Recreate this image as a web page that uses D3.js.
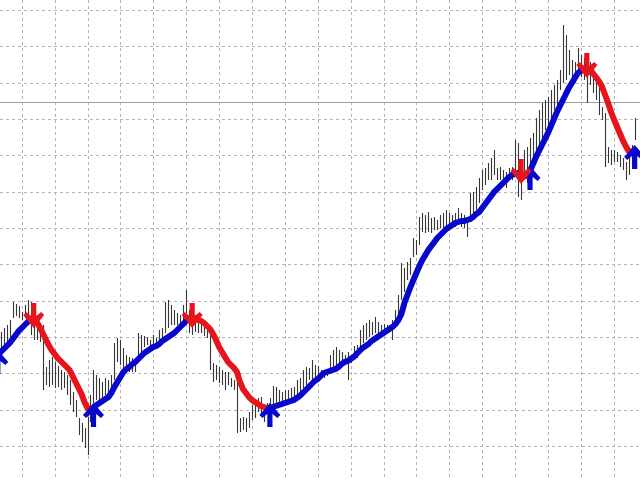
<!DOCTYPE html>
<html>
<head>
<meta charset="utf-8">
<script src="https://cdn.jsdelivr.net/npm/d3@7/dist/d3.min.js"></script>
<style>
  html, body { margin: 0; padding: 0; background: #ffffff; }
  svg { display: block; }
</style>
</head>
<body>
<div id="chart"></div>
<script>
// ---- data (price in chart points) ----
const highs = [145,148,152,155,160,178,176,174,168,175,180,178,170,158,157,155,113,120,123,118,
114,110,108,105,100,88,80,62,57,52,63,85,110,105,102,98,102,100,105,137,
142,140,132,125,123,122,120,147,145,144,143,140,145,142,150,152,178,180,175,170,
167,165,175,190,170,172,160,158,160,155,150,150,117,115,113,110,108,108,102,100,
103,62,63,62,68,75,77,82,83,75,77,82,94,93,90,88,90,90,92,93,
100,102,110,113,112,120,115,114,110,108,110,125,130,133,130,128,125,128,125,134,
135,150,155,157,160,158,163,158,155,156,155,155,160,170,185,217,212,218,222,242,
240,263,267,265,268,262,263,260,265,267,270,267,265,267,272,267,265,260,287,288,
293,302,310,312,317,322,330,312,313,310,308,312,313,340,337,313,330,333,342,347,
362,370,377,380,383,390,395,400,410,455,445,430,420,418,432,425,422,425,418,410,
402,395,373,367,333,330,330,328,325,322,318,325,335,362];

const lows = [124,128,130,134,140,162,164,162,160,162,158,145,140,140,138,90,95,93,95,92,
93,90,92,85,75,68,63,45,38,32,25,58,77,80,80,78,85,82,85,100,
118,115,112,110,108,108,108,125,128,133,135,133,135,134,138,140,147,152,155,155,
155,153,157,167,147,145,148,147,147,144,142,110,98,100,97,95,90,95,93,90,
47,48,50,48,52,60,62,68,65,58,67,68,75,76,75,75,78,80,80,80,
85,87,92,95,100,100,102,102,102,102,104,110,112,115,117,117,115,100,117,120,
122,128,137,140,143,145,147,147,147,148,150,149,140,152,163,180,188,200,205,223,
225,235,248,247,248,247,250,250,252,252,253,254,255,253,256,253,252,243,260,267,
270,277,290,295,300,300,305,300,300,298,292,300,300,307,283,280,300,297,310,315,
328,335,340,350,353,362,370,375,390,397,400,405,400,397,405,403,400,377,395,387,
380,365,360,313,317,315,318,318,313,310,300,305,315,340];

const maValues = [125,128,131,134,137,141,145,149,152,155,158,161,162,158,153,147,141,135,130,126,
122,119,116,113,110,104,98,92,86,78,72,70,72,75,77,79,81,83,87,93,
98,103,108,111,113,116,118,121,124,127,129,131,133,134,136,139,141,143,145,147,
150,153,156,159,161,162,162,160,159,157,154,151,146,140,133,128,123,118,115,112,
108,98,91,87,83,80,78,76,74,73,72,72,73,74,75,76,77,78,79,80,
82,84,87,90,93,96,99,101,104,107,108,109,110,111,113,116,118,119,121,123,
126,129,132,134,136,139,141,143,145,147,149,151,153,156,160,166,177,185,193,200,
207,214,220,225,230,234,238,242,245,248,251,253,255,257,258,259,259,260,261,263,
266,268,272,276,280,284,288,291,294,297,300,303,305,306,307,306,304,304,309,316,
323,329,335,341,347,354,361,368,374,380,386,392,397,402,407,409,411,412,411,407,
403,399,394,386,378,369,361,354,347,340,334,329,328,330];

const upSignals = [0, 32, 91, 178, 213];      // bar indices of buy arrows
const downSignals = [12, 65, 175, 197];       // bar indices of sell arrows
const refLevel = 378;                          // horizontal price line
const gridBase = 34, gridStep = 36.33;         // price grid
const timeGridStart = 8, timeGridEvery = 11;   // vertical grid every 11 bars

// ---- drawing ----
const W = 640, H = 480;
const N = highs.length;
const svg = d3.select("#chart").append("svg").attr("width", W).attr("height", H);
svg.append("rect").attr("width", W).attr("height", H).attr("fill", "#fff");

const x = d3.scaleLinear().domain([0, N - 1]).range([-2.2, -2.2 + 2.99 * (N - 1)]);
const y = d3.scaleLinear().domain([0, 480]).range([480, 0]);

// grid
const gridLevels = d3.range(gridBase, 480, gridStep);
svg.append("g").selectAll("line").data(gridLevels).join("line")
  .attr("x1", 0).attr("x2", W)
  .attr("y1", d => Math.round(y(d)) + 0.5).attr("y2", d => Math.round(y(d)) + 0.5)
  .attr("stroke", "#b4b4b4").attr("stroke-width", 1).attr("stroke-dasharray", "3,3");
const timeGrid = d3.range(timeGridStart, N, timeGridEvery);
svg.append("g").selectAll("line").data(timeGrid).join("line")
  .attr("x1", d => Math.round(x(d)) + 0.5).attr("x2", d => Math.round(x(d)) + 0.5)
  .attr("y1", 0).attr("y2", H)
  .attr("stroke", "#b4b4b4").attr("stroke-width", 1).attr("stroke-dasharray", "3,3");

// horizontal price line
svg.append("line")
  .attr("x1", 0).attr("x2", W)
  .attr("y1", Math.round(y(refLevel)) + 0.5).attr("y2", Math.round(y(refLevel)) + 0.5)
  .attr("stroke", "#a0a0a0").attr("stroke-width", 1);

// price bars (high-low)
svg.append("g").selectAll("line").data(d3.range(N)).join("line")
  .attr("x1", i => Math.round(x(i)) + 0.5).attr("x2", i => Math.round(x(i)) + 0.5)
  .attr("y1", i => y(highs[i])).attr("y2", i => y(lows[i]))
  .attr("stroke", "#363636").attr("stroke-width", 1.1);

// trend per bar
const trend = [];
let cur = 1;
for (let i = 0; i < N; i++) {
  if (upSignals.includes(i)) cur = 1;
  if (downSignals.includes(i)) cur = -1;
  trend.push(cur);
}
// runs of same colour
const runs = [];
let run = { t: trend[0], pts: [0] };
for (let i = 1; i < N; i++) {
  run.pts.push(i);
  if (i < N - 1 && trend[i] !== run.t) {
    runs.push(run);
    run = { t: trend[i], pts: [i] };
  }
}
runs.push(run);

const BLUE = "#0808cc", RED = "#e8141c";
const line = d3.line().x(i => x(i)).y(i => y(maValues[i]));
svg.append("g").selectAll("path").data(runs).join("path")
  .attr("d", r => line(r.pts))
  .attr("fill", "none")
  .attr("stroke", r => r.t > 0 ? BLUE : RED)
  .attr("stroke-width", 6)
  .attr("stroke-linejoin", "miter");

// arrows
const upShape = "M-2.6,19 L2.6,19 L2.6,6 L7.5,10 L10.5,7 L0,-5 L-10.5,7 L-7.5,10 L-2.6,6 Z";
const downShape = "M-2.6,-15 L2.6,-15 L2.6,-2 L7.5,-6 L10.5,-3 L0,10 L-10.5,-3 L-7.5,-6 L-2.6,-2 Z";
svg.append("g").selectAll("path").data(upSignals).join("path")
  .attr("d", upShape)
  .attr("transform", i => `translate(${x(i)},${y(maValues[i])})`)
  .attr("fill", BLUE);
svg.append("g").selectAll("path").data(downSignals).join("path")
  .attr("d", downShape)
  .attr("transform", i => `translate(${x(i)},${y(maValues[i])})`)
  .attr("fill", RED);
</script>
</body>
</html>
